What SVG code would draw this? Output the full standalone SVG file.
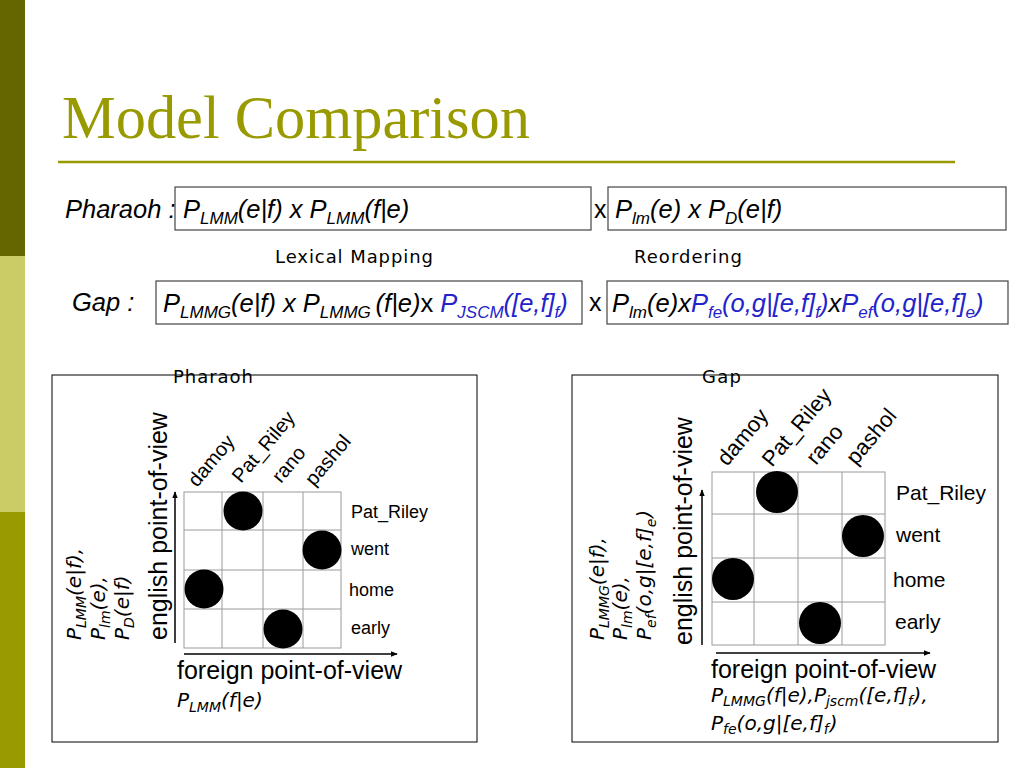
<svg xmlns="http://www.w3.org/2000/svg" width="1024" height="768" viewBox="0 0 1024 768">
<style>
.f{font-family:"Liberation Sans",Arial,sans-serif;font-style:italic;font-size:25.5px;fill:#000}
.fu{font-family:"Liberation Sans",Arial,sans-serif;font-size:25px;fill:#000}
.s{font-size:17px}
.b{fill:#2323CC}
.k{fill:#000}
.box{fill:#fff;stroke:#444;stroke-width:1.2}
.lab{font-family:"DejaVu Sans",Verdana,sans-serif;font-size:18px;fill:#000}
.panel{fill:none;stroke:#000;stroke-width:1}
.grid{fill:none;stroke:#9a9a9a;stroke-width:1}
.dot{fill:#000}
.w1{font-family:"Liberation Sans",Arial,sans-serif;font-size:18px;fill:#000}
.c1{font-family:"Liberation Sans",Arial,sans-serif;font-size:20px;fill:#000}
.w2{font-family:"Liberation Sans",Arial,sans-serif;font-size:21px;fill:#000}
.c2{font-family:"Liberation Sans",Arial,sans-serif;font-size:22px;fill:#000}
.ax{font-family:"Liberation Sans",Arial,sans-serif;font-size:25px;fill:#000}
.m{font-family:"DejaVu Sans",sans-serif;font-style:oblique;font-size:20px;fill:#000}
.ms{font-size:14px}
.arr{stroke:#000;stroke-width:1.5;fill:none;marker-end:url(#ah)}
</style>
<defs>
<marker id="ah" viewBox="0 0 10 10" refX="9" refY="5" markerWidth="7" markerHeight="7" orient="auto" markerUnits="userSpaceOnUse">
<path d="M0,1 L10,5 L0,9 Z" fill="#000"/>
</marker>
</defs>
<rect width="1024" height="768" fill="#fff"/>
<g id="sidebar">
<rect x="0" y="0" width="25" height="256" fill="#666600"/>
<rect x="0" y="256" width="25" height="256" fill="#CCCC66"/>
<rect x="0" y="512" width="25" height="256" fill="#999900"/>
</g>
<g id="title">
<text x="62" y="138" font-family="'Liberation Serif','Times New Roman',serif" font-size="61" fill="#999900" textLength="468" lengthAdjust="spacingAndGlyphs">Model Comparison</text>
<line x1="58" y1="162" x2="955" y2="162" stroke="#999900" stroke-width="2.5"/>
</g>
<g id="pharaoh-row">
<text class="f" x="65" y="218">Pharaoh :</text>
<rect class="box" x="175" y="187" width="416" height="43"/>
<text class="f" x="183" y="218">P<tspan class="s" dy="6">LMM</tspan><tspan dy="-6">(e|f) x P</tspan><tspan class="s" dy="6">LMM</tspan><tspan dy="-6">(f|e)</tspan></text>
<text class="fu" x="594" y="218">x</text>
<rect class="box" x="608" y="187" width="398" height="43"/>
<text class="f" x="615" y="218">P<tspan class="s" dy="6">lm</tspan><tspan dy="-6">(e) x P</tspan><tspan class="s" dy="6">D</tspan><tspan dy="-6">(e|f)</tspan></text>
</g>
<g id="headings">
<text class="lab" x="275" y="263" textLength="158">Lexical Mapping</text>
<text class="lab" x="634" y="263" textLength="108">Reordering</text>
</g>
<g id="gap-row">
<text class="f" x="72" y="311">Gap :</text>
<rect class="box" x="156" y="281" width="426" height="43"/>
<text class="f" x="163" y="312">P<tspan class="s" dy="6">LMMG</tspan><tspan dy="-6">(e|f) x P</tspan><tspan class="s" dy="6">LMMG </tspan><tspan dy="-6">(f|e)</tspan><tspan font-style="normal">x </tspan><tspan class="b">P</tspan><tspan class="s b" dy="6">JSCM</tspan><tspan class="b" dy="-6">([e,f]</tspan><tspan class="s b" dy="6">f</tspan><tspan class="b" dy="-6">)</tspan></text>
<text class="fu" x="589" y="311">x</text>
<rect class="box" x="607" y="281" width="401" height="43"/>
<text class="f" x="612" y="312">P<tspan class="s" dy="6">lm</tspan><tspan dy="-6">(e)x</tspan><tspan class="b">P</tspan><tspan class="s b" dy="6">fe</tspan><tspan class="b" dy="-6">(o,g|[e,f]</tspan><tspan class="s b" dy="6">f</tspan><tspan class="b" dy="-6">)</tspan><tspan class="k">x</tspan><tspan class="b">P</tspan><tspan class="s b" dy="6">ef</tspan><tspan class="b" dy="-6">(o,g|[e,f]</tspan><tspan class="s b" dy="6">e</tspan><tspan class="b" dy="-6">)</tspan></text>
</g>
<g id="pharaoh-panel">
<rect class="panel" x="52" y="375" width="425" height="367"/>
<text class="lab" x="173" y="383" textLength="80">Pharaoh</text>
<text class="m" transform="translate(81,640) rotate(-90)">P<tspan class="ms" dy="5">LMM</tspan><tspan dy="-5">(e|f),</tspan></text>
<text class="m" transform="translate(105,640) rotate(-90)">P<tspan class="ms" dy="5">lm</tspan><tspan dy="-5">(e),</tspan></text>
<text class="m" transform="translate(129,640) rotate(-90)">P<tspan class="ms" dy="5">D</tspan><tspan dy="-5">(e|f)</tspan></text>
<text class="ax" transform="translate(167,640) rotate(-90)">english point-of-view</text>
<g class="grid">
<rect x="184" y="492" width="157" height="156"/>
<path d="M222,492V648M263,492V648M303,492V648M184,530H341M184,570H341M184,609H341"/>
</g>
<circle class="dot" cx="243" cy="511" r="19.5"/>
<circle class="dot" cx="322" cy="550" r="19.5"/>
<circle class="dot" cx="204" cy="589" r="19.5"/>
<circle class="dot" cx="283" cy="629" r="19.5"/>
<text class="c1" transform="translate(197,488) rotate(-50)">damoy</text>
<text class="c1" transform="translate(241,484) rotate(-50)">Pat_Riley</text>
<text class="c1" transform="translate(281,484) rotate(-50)">rano</text>
<text class="c1" transform="translate(314,487) rotate(-50)">pashol</text>
<text class="w1" x="351" y="518">Pat_Riley</text>
<text class="w1" x="351" y="555">went</text>
<text class="w1" x="349" y="596">home</text>
<text class="w1" x="351" y="634">early</text>
<text class="ax" x="177" y="679">foreign point-of-view</text>
<text class="m" x="177" y="707">P<tspan class="ms" dy="5">LMM</tspan><tspan dy="-5">(f|e)</tspan></text>
</g>
<g id="gap-panel">
<rect class="panel" x="572" y="375" width="426" height="367"/>
<text class="lab" x="702" y="383" textLength="39">Gap</text>
<text class="m" transform="translate(604,640) rotate(-90)">P<tspan class="ms" dy="5">LMMG</tspan><tspan dy="-5">(e|f),</tspan></text>
<text class="m" transform="translate(627,640) rotate(-90)">P<tspan class="ms" dy="5">lm</tspan><tspan dy="-5">(e),</tspan></text>
<text class="m" transform="translate(651,640) rotate(-90)">P<tspan class="ms" dy="5">ef</tspan><tspan dy="-5">(o,g|[e,f]</tspan><tspan class="ms" dy="5">e</tspan><tspan dy="-5" dx="1">)</tspan></text>
<text class="ax" transform="translate(692,645) rotate(-90)">english point-of-view</text>
<g class="grid">
<rect x="712" y="472" width="173" height="173"/>
<path d="M754,472V645M798,472V645M842,472V645M712,514H885M712,558H885M712,602H885"/>
</g>
<circle class="dot" cx="777" cy="492" r="21"/>
<circle class="dot" cx="863" cy="536" r="21"/>
<circle class="dot" cx="733" cy="579" r="21"/>
<circle class="dot" cx="820" cy="623" r="21"/>
<text class="c2" transform="translate(727,467) rotate(-50)">damoy</text>
<text class="c2" transform="translate(772,468) rotate(-50)">Pat_Riley</text>
<text class="c2" transform="translate(816,466) rotate(-50)">rano</text>
<text class="c2" transform="translate(856,466) rotate(-50)">pashol</text>
<text class="w2" x="896" y="500">Pat_Riley</text>
<text class="w2" x="896" y="542">went</text>
<text class="w2" x="893" y="587">home</text>
<text class="w2" x="895" y="629">early</text>
<text class="ax" x="711" y="678">foreign point-of-view</text>
<text class="m" x="711" y="702">P<tspan class="ms" dy="4">LMMG</tspan><tspan dy="-4">(f|e),P</tspan><tspan class="ms" dy="4">jscm</tspan><tspan dy="-4">([e,f]</tspan><tspan class="ms" dy="4">f</tspan><tspan dy="-4" dx="1">),</tspan></text>
<text class="m" x="711" y="730">P<tspan class="ms" dy="4">fe</tspan><tspan dy="-4">(o,g|[e,f]</tspan><tspan class="ms" dy="4">f</tspan><tspan dy="-4" dx="1">)</tspan></text>
</g>
<g id="connectors">
<line class="arr" x1="175" y1="643" x2="175" y2="492"/>
<line class="arr" x1="184" y1="654" x2="397" y2="654"/>
<line class="arr" x1="702" y1="645" x2="702" y2="490"/>
<line class="arr" x1="716" y1="653" x2="930" y2="653"/>
</g>
</svg>
